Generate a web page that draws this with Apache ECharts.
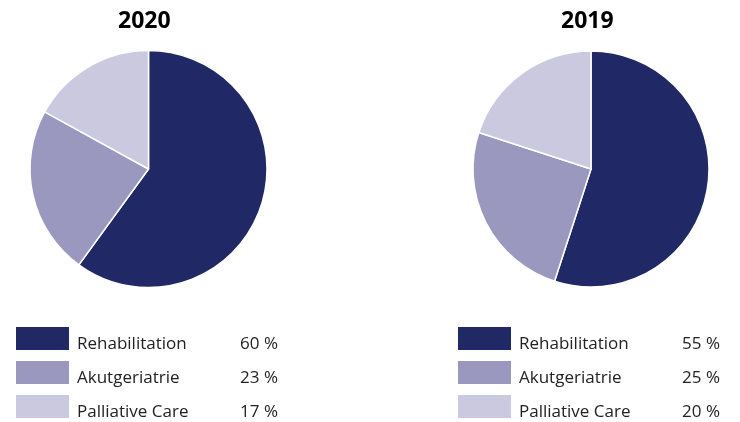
<!DOCTYPE html>
<html>
<head>
<meta charset="utf-8">
<title>Pie 2020 / 2019</title>
<script src="https://cdn.jsdelivr.net/npm/echarts@6/dist/echarts.min.js"></script>
<style>
html, body { margin: 0; padding: 0; background: #fff; }
#main { width: 740px; height: 422px; }
</style>
</head>
<body>
<div id="main"></div>
<script>
var categories = ['Rehabilitation', 'Akutgeriatrie', 'Palliative Care'];
var values2020 = [60, 23, 17];
var values2019 = [55, 25, 20];
var years = ['2020', '2019'];
var colors = ['#212866', '#9a98be', '#cac9e0'];

var myChart = echarts.init(document.getElementById('main'));

function pieData(vals) {
    return categories.map(function (c, i) {
        return { name: c, value: vals[i] };
    });
}

// legend = colour box + name + value, text sits a bit lower than box centre
function legendFor(vals, left) {
    return {
        orient: 'vertical',
        left: left,
        top: 324,
        height: 140,
        padding: 0,
        itemWidth: 53,
        itemHeight: 23,
        itemGap: 5,
        icon: 'rect',
        itemStyle: { borderWidth: 0 },
        selectedMode: false,
        data: categories,
        formatter: function (name) {
            var v = vals[categories.indexOf(name)];
            return '{n|' + name + '}{v|' + v + ' %}';
        },
        textStyle: {
            color: '#222',
            fontFamily: 'Open Sans',
            fontSize: 17,
            rich: {
                n: { width: 158, lineHeight: 23, padding: [12, 0, 0, 3], fontSize: 17, fontFamily: 'Open Sans', color: '#222' },
                v: { width: 43, lineHeight: 23, padding: [12, 0, 0, 0], align: 'right', fontSize: 17, fontFamily: 'Open Sans', color: '#222' }
            }
        }
    };
}

var titleStyle = { fontFamily: 'Open Sans', fontWeight: 'bold', fontSize: 23, color: '#000' };

var option = {
    animation: false,
    color: colors,
    title: [
        { text: years[0], left: 118, top: 10, padding: 0, textStyle: titleStyle },
        { text: years[1], left: 561, top: 10, padding: 0, textStyle: titleStyle }
    ],
    legend: [legendFor(values2020, 16), legendFor(values2019, 458)],
    series: [
        {
            type: 'pie',
            center: [148.5, 169],
            radius: 118.5,
            startAngle: 90,
            clockwise: true,
            label: { show: false },
            labelLine: { show: false },
            emphasis: { disabled: true },
            itemStyle: { borderColor: '#fff', borderWidth: 1.5 },
            data: pieData(values2020)
        },
        {
            type: 'pie',
            center: [591, 169],
            radius: 118,
            startAngle: 90,
            clockwise: true,
            label: { show: false },
            labelLine: { show: false },
            emphasis: { disabled: true },
            itemStyle: { borderColor: '#fff', borderWidth: 1.5 },
            data: pieData(values2019)
        }
    ]
};

myChart.setOption(option);
</script>
</body>
</html>
